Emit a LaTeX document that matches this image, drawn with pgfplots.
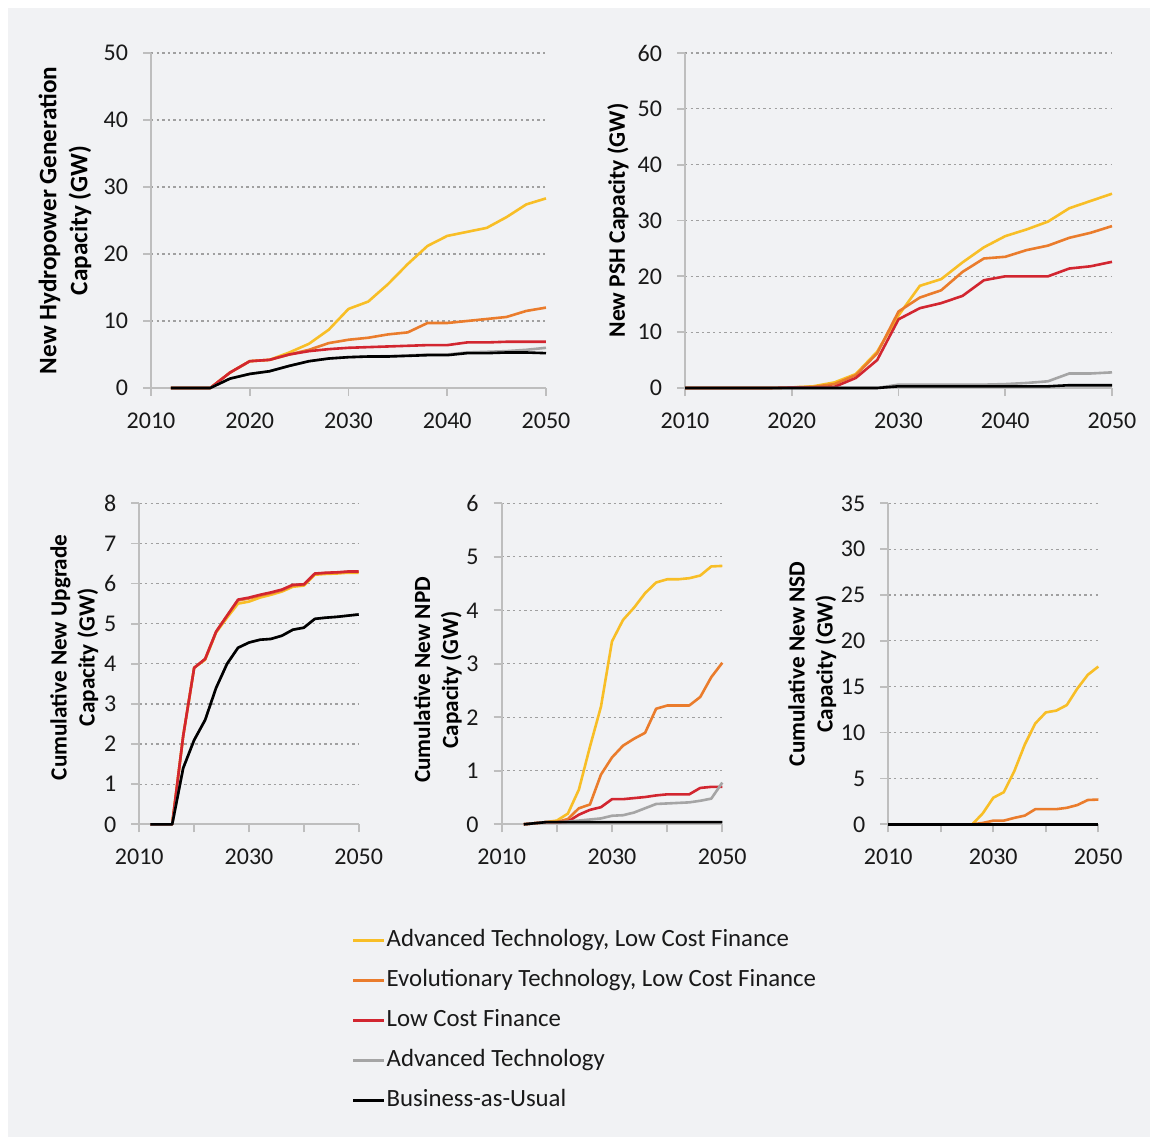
\documentclass[border=0pt]{standalone}
\usepackage{pgfplots}
\pgfplotsset{compat=1.18}
\usepackage{pgfplotstable}
\usepackage{fontspec}
\setmainfont{Carlito}
\definecolor{bg}{RGB}{241,242,244}
\definecolor{axisgray}{RGB}{190,190,190}
\definecolor{gridgray}{RGB}{160,160,160}
\definecolor{txt}{RGB}{25,25,25}
\definecolor{cY}{RGB}{248,190,38}
\definecolor{cO}{RGB}{234,124,44}
\definecolor{cR}{RGB}{210,38,48}
\definecolor{cG}{RGB}{165,165,165}
\definecolor{cK}{RGB}{0,0,0}

% columns: year, Advanced Tech LCF, Evolutionary Tech LCF, Low Cost Finance, Advanced Tech, BAU
\pgfplotstableread{
year a b c d e
2012 0 0 0 0 0
2014 0 0 0 0 0
2016 0 0 0 0 0
2018 2.3 2.3 2.3 1.4 1.4
2020 4.0 4.0 4.0 2.1 2.1
2022 4.2 4.2 4.2 2.5 2.5
2024 5.3 5.0 5.0 3.3 3.3
2026 6.6 5.7 5.5 4.0 4.0
2028 8.7 6.7 5.8 4.4 4.4
2030 11.8 7.2 6.0 4.6 4.6
2032 12.9 7.5 6.1 4.7 4.7
2034 15.5 8.0 6.2 4.75 4.7
2036 18.5 8.3 6.3 4.85 4.8
2038 21.2 9.7 6.4 5.0 4.9
2040 22.7 9.7 6.4 5.0 4.9
2042 23.3 10.0 6.8 5.3 5.2
2044 23.9 10.3 6.8 5.4 5.2
2046 25.5 10.6 6.9 5.5 5.3
2048 27.4 11.5 6.9 5.7 5.3
2050 28.3 12.0 6.9 6.0 5.2
}\tA
\pgfplotstableread{
year a b c d e
2010 0 0 0 0 0
2012 0 0 0 0 0
2014 0 0 0 0 0
2016 0 0 0 0 0
2018 0 0 0 0 0
2020 0.1 0.1 0.1 0 0
2022 0.3 0.2 0.1 0 0
2024 1.0 0.7 0.2 0 0
2026 2.5 2.3 1.8 0 0
2028 6.5 6.2 5.0 0 0
2030 13.0 13.7 12.3 0.6 0.3
2032 18.3 16.2 14.3 0.6 0.3
2034 19.5 17.5 15.2 0.6 0.3
2036 22.5 20.8 16.5 0.6 0.3
2038 25.2 23.2 19.3 0.6 0.3
2040 27.2 23.5 20.0 0.7 0.3
2042 28.4 24.7 20.0 0.9 0.3
2044 29.8 25.5 20.0 1.2 0.3
2046 32.2 26.9 21.4 2.6 0.5
2048 33.5 27.8 21.8 2.6 0.5
2050 34.8 29.0 22.6 2.8 0.5
}\tB
\pgfplotstableread{
year a b c d e
2012 0 0 0 0 0
2014 0 0 0 0 0
2016 0 0 0 0 0
2018 2.2 2.2 2.2 1.4 1.4
2020 3.9 3.9 3.9 2.1 2.1
2022 4.1 4.12 4.12 2.6 2.6
2024 4.78 4.8 4.8 3.4 3.4
2026 5.15 5.2 5.2 4.0 4.0
2028 5.5 5.58 5.6 4.4 4.4
2030 5.55 5.63 5.65 4.53 4.53
2032 5.65 5.7 5.72 4.6 4.6
2034 5.72 5.76 5.78 4.62 4.62
2036 5.8 5.83 5.85 4.7 4.7
2038 5.92 5.95 5.97 4.85 4.85
2040 5.95 5.97 5.98 4.9 4.9
2042 6.22 6.24 6.25 5.12 5.12
2044 6.24 6.26 6.27 5.15 5.15
2046 6.25 6.27 6.28 5.17 5.17
2048 6.27 6.29 6.3 5.2 5.2
2050 6.27 6.29 6.3 5.23 5.23
}\tC
\pgfplotstableread{
year a b c d e
2014 0 0 0 0 0
2016 0.02 0.02 0.02 0.02 0.02
2018 0.04 0.04 0.04 0.04 0.04
2020 0.07 0.04 0.04 0.04 0.04
2022 0.2 0.1 0.05 0.05 0.04
2024 0.65 0.3 0.18 0.07 0.04
2026 1.45 0.37 0.27 0.09 0.04
2028 2.2 0.93 0.32 0.11 0.04
2030 3.42 1.25 0.47 0.16 0.04
2032 3.82 1.47 0.47 0.17 0.04
2034 4.05 1.6 0.49 0.22 0.04
2036 4.32 1.71 0.51 0.3 0.04
2038 4.52 2.16 0.54 0.38 0.04
2040 4.58 2.22 0.56 0.39 0.04
2042 4.58 2.22 0.56 0.4 0.04
2044 4.6 2.22 0.56 0.41 0.04
2046 4.65 2.38 0.68 0.44 0.04
2048 4.82 2.75 0.7 0.48 0.04
2050 4.83 3.02 0.7 0.78 0.04
}\tD
\pgfplotstableread{
year a b c d e
2010 0 0 0 0 0
2012 0 0 0 0 0
2014 0 0 0 0 0
2016 0 0 0 0 0
2018 0 0 0 0 0
2020 0 0 0 0 0
2022 0 0 0 0 0
2024 0 0 0 0 0
2026 0 0 0 0 0
2028 1.2 0.15 0 0 0
2030 2.9 0.4 0 0 0
2032 3.5 0.4 0 0 0
2034 5.8 0.7 0 0 0
2036 8.7 0.95 0 0 0
2038 11.0 1.65 0 0 0
2040 12.2 1.65 0 0 0
2042 12.4 1.65 0 0 0
2044 13.0 1.8 0 0 0
2046 14.8 2.1 0 0 0
2048 16.3 2.65 0 0 0
2050 17.2 2.7 0 0 0
}\tE

\pgfplotsset{
  base/.style={
    scale only axis, anchor=south west,
    axis x line*=bottom, axis y line*=left,
    axis line style={draw=axisgray, line width=0.9pt},
    tick align=outside, major tick length=4pt,
    every tick/.style={draw=axisgray, line width=0.9pt},
    ymajorgrids,
    grid style={draw=gridgray, line width=0.6pt, dash pattern=on 1.2pt off 1.6pt},
    xmin=2010, xmax=2050, ymin=0, clip=false,
    xtick={2010,2020,2030,2040,2050},
    /pgf/number format/assume math mode=true,
    /pgf/number format/1000 sep={},
    tick label style={font=\fontsize{12}{13}\selectfont, text=txt},
    yticklabel style={xshift=-4pt},
    xticklabel style={yshift=-5pt},
    ylabel style={anchor=center, align=center, text=black},
    every axis plot/.append style={line width=1.3pt, line join=round},
  },
}

\newcommand{\fiveplots}[1]{%
  \addplot[cY] table[x=year,y=a] {#1};
  \addplot[cO] table[x=year,y=b] {#1};
  \addplot[cR] table[x=year,y=c] {#1};
  \addplot[cG] table[x=year,y=d] {#1};
  \addplot[cK] table[x=year,y=e] {#1};
}

\begin{document}
\begin{tikzpicture}
\fill[white] (0,0) rectangle (575pt,568.5pt);
\fill[bg] (4pt,0) rectangle (575pt,564.5pt);

% Panel 1
\begin{axis}[base, at={(75.5pt,374.5pt)}, width=197.5pt, height=167.5pt,
  ymax=50, ytick={0,10,...,50},
  ylabel={New Hydropower Generation\\Capacity (GW)},
  ylabel style={at={(axis description cs:-0.218,0.5)}, font=\bfseries\fontsize{12.6}{15.5}\selectfont}]
\fiveplots{\tA}
\end{axis}

% Panel 2
\begin{axis}[base, at={(342.5pt,374.5pt)}, width=213.5pt, height=167.5pt,
  ymax=60, ytick={0,10,...,60},
  ylabel={New PSH Capacity (GW)},
  ylabel style={at={(axis description cs:-0.157,0.5)}, font=\bfseries\fontsize{11.8}{14}\selectfont}]
\fiveplots{\tB}
\end{axis}

% Panel 3
\begin{axis}[base, at={(69.65pt,156.35pt)}, width=109.7pt, height=160.5pt,
  ymax=8, ytick={0,1,...,8},
  xticklabels={2010,,2030,,2050},
  ylabel={Cumulative New Upgrade\\Capacity (GW)},
  ylabel style={at={(axis description cs:-0.296,0.52)}, font=\bfseries\fontsize{11.6}{14}\selectfont}]
\fiveplots{\tC}
\end{axis}

% Panel 4
\begin{axis}[base, at={(250.85pt,156.35pt)}, width=110.3pt, height=160.5pt,
  ymax=6, ytick={0,1,...,6},
  xticklabels={2010,,2030,,2050},
  ylabel={Cumulative New NPD\\Capacity (GW)},
  ylabel style={at={(axis description cs:-0.29,0.45)}, font=\bfseries\fontsize{11.6}{14}\selectfont},
  legend style={at={(axis description cs:-0.68,-0.323)}, anchor=north west,
    draw=none, fill=none, font=\fontsize{12.4}{14}\selectfont, text=txt,
    row sep=8pt, column sep=0.5pt, inner sep=0pt,
    cells={anchor=west},
    nodes={inner sep=0pt, text height=9pt, text depth=3pt}},
  legend image code/.code={\draw[#1] (0pt,0pt) -- (15.5pt,0pt);}]
\fiveplots{\tD}
\legend{Advanced Technology{,} Low Cost Finance,
        Evolutionary Technology{,} Low Cost Finance,
        Low Cost Finance, Advanced Technology, Business-as-Usual}
\end{axis}

% Panel 5
\begin{axis}[base, at={(444.15pt,156.35pt)}, width=105pt, height=160.5pt,
  ymax=35, ytick={0,5,...,35},
  xticklabels={2010,,2030,,2050},
  ylabel={Cumulative New NSD\\Capacity (GW)},
  ylabel style={at={(axis description cs:-0.362,0.5)}, font=\bfseries\fontsize{11.6}{14}\selectfont}]
\fiveplots{\tE}
\end{axis}

\pgfresetboundingbox
\path[use as bounding box] (0,0) rectangle (575pt,568.5pt);
\end{tikzpicture}
\end{document}
